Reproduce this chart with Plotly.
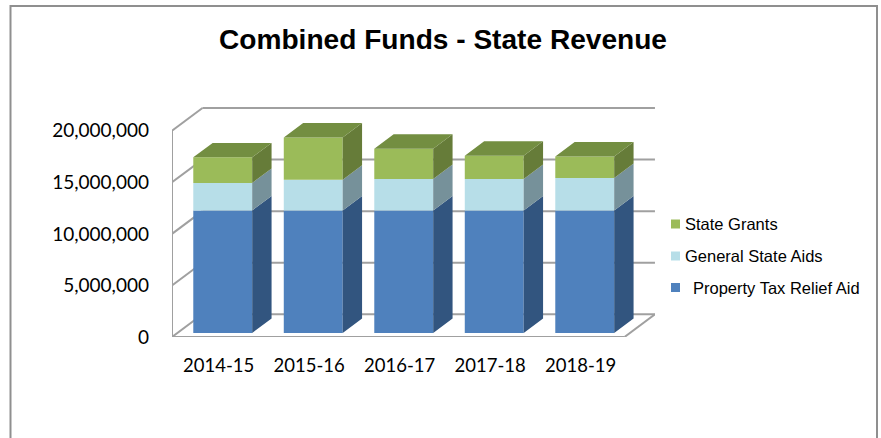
import plotly.graph_objects as go

categories = ["2014-15", "2015-16", "2016-17", "2017-18", "2018-19"]
property_tax = [11880000, 11880000, 11880000, 11880000, 11880000]
general_aids = [2660000, 2970000, 3040000, 3040000, 3140000]
state_grants = [2480000, 4100000, 2940000, 2260000, 2090000]
y_ticks = [0, 5000000, 10000000, 15000000, 20000000]

W, H = 881, 438
L, R, T, B = 172, 655, 107, 337      # plot area in pixels
X_RANGE = [-0.5, 4.837]
Y_RANGE = [0, 22300000]
DX, DY = 0.3366, 2200000             # shift of the back plane, in axis units
D1, D2 = 0.18, 0.816                 # bar depth (front, back)
BAR_W = 0.651
GRID = "#a0a0a0"

def px(x):
    return (x - L) / (R - L)

def py(y):
    return (B - y) / (B - T)

fig = go.Figure()

series = [
    ("Property Tax Relief Aid", property_tax, "#4F81BD", "#32557F"),
    ("General State Aids", general_aids, "#B7DEE8", "#76919A"),
    ("State Grants", state_grants, "#9BBB59", "#667C39"),
]

bottom = [D1 * DY] * len(categories)
xs_front = [i + D1 * DX for i in range(len(categories))]
for name, vals, col, side in series:
    fig.add_trace(go.Bar(x=xs_front, y=vals, base=bottom, width=BAR_W, name=name,
                         marker=dict(color=col, line=dict(width=0)), showlegend=False))
    sx, sy = [], []
    for i, (b, v) in enumerate(zip(bottom, vals)):
        x0 = i + BAR_W / 2
        sx += [x0 + D1 * DX, x0 + D2 * DX, x0 + D2 * DX, x0 + D1 * DX, x0 + D1 * DX, None]
        y0 = b - D1 * DY
        y1 = y0 + v
        sy += [y0 + D1 * DY, y0 + D2 * DY, y1 + D2 * DY, y1 + D1 * DY, y0 + D1 * DY, None]
    fig.add_trace(go.Scatter(x=sx, y=sy, mode="lines", fill="toself", fillcolor=side,
                             line=dict(width=0), showlegend=False, hoverinfo="skip"))
    bottom = [b + v for b, v in zip(bottom, vals)]

# top faces
tx, ty = [], []
for i, b in enumerate(bottom):
    v = b - D1 * DY
    xl, xr = i - BAR_W / 2, i + BAR_W / 2
    tx += [xl + D1 * DX, xr + D1 * DX, xr + D2 * DX, xl + D2 * DX, xl + D1 * DX, None]
    ty += [v + D1 * DY, v + D1 * DY, v + D2 * DY, v + D2 * DY, v + D1 * DY, None]
fig.add_trace(go.Scatter(x=tx, y=ty, mode="lines", fill="toself", fillcolor="#738E41",
                         line=dict(width=0), showlegend=False, hoverinfo="skip"))

# walls and gridlines, behind the bars
shapes = []
def seg(x0, y0, x1, y1):
    shapes.append(dict(type="line", xref="x", yref="y", x0=x0, y0=y0, x1=x1, y1=y1,
                       layer="below", line=dict(color=GRID, width=2)))

xl, xr = X_RANGE[0], X_RANGE[0] + len(categories)
for t in y_ticks:
    seg(xl, t, xl + DX, t + DY)
    seg(xl + DX, t + DY, xr + DX, t + DY)
seg(xl, 0, xl, y_ticks[-1])
seg(xl, 0, xr, 0)
seg(xr, 0, xr + DX, DY)

# chart-area frame: left, top and right edges, open at the bottom
shapes.append(dict(type="path", xref="paper", yref="paper",
                   path=f"M {px(10.5)} {py(438)} L {px(10.5)} {py(6)} L {px(877)} {py(6)} L {px(877)} {py(438)}",
                   line=dict(color="#8f8f8f", width=2), layer="below"))

# legend
annotations = []
legend_rows = [
    ("State Grants", "#9BBB59", 224, 683),
    ("General State Aids", "#B7DEE8", 256, 683),
    ("Property Tax Relief Aid", "#4F81BD", 287.5, 691),
]
for text, col, yc, xt in legend_rows:
    shapes.append(dict(type="rect", xref="paper", yref="paper", x0=px(671), x1=px(680),
                       y0=py(yc + 4.5), y1=py(yc - 4.5), fillcolor=col, line=dict(width=0)))
    annotations.append(dict(text=text, xref="paper", yref="paper", x=px(xt), y=py(yc),
                            xanchor="left", yanchor="middle", showarrow=False,
                            font=dict(family="Liberation Sans", size=16.5, color="#000000")))

fig.update_layout(
    width=W, height=H, autosize=False,
    margin=dict(l=L, r=W - R, t=T, b=H - B, pad=0),
    paper_bgcolor="#ffffff", plot_bgcolor="rgba(0,0,0,0)",
    barmode="overlay", showlegend=False,
    title=dict(text="<b>Combined Funds - State Revenue</b>", x=443 / W, y=1 - 39 / H,
               xanchor="center", yanchor="middle", xref="container", yref="container",
               font=dict(family="Liberation Sans", size=28.1, color="#000000")),
    xaxis=dict(range=X_RANGE, tickvals=[i + 0.015 for i in range(len(categories))], ticktext=categories,
               showgrid=False, zeroline=False, showline=False, ticks="",
               ticklabelstandoff=15, tickfont=dict(family="Lato", size=18.5, color="#000000")),
    yaxis=dict(range=Y_RANGE, tickvals=y_ticks, tickformat=",d",
               showgrid=False, zeroline=False, showline=False, ticks="",
               ticklabelstandoff=22, tickfont=dict(family="Lato", size=19, color="#000000")),
    shapes=shapes, annotations=annotations,
)

fig.write_html("out.html", config={"displayModeBar": False},
               post_script="document.body.style.margin='0';")
